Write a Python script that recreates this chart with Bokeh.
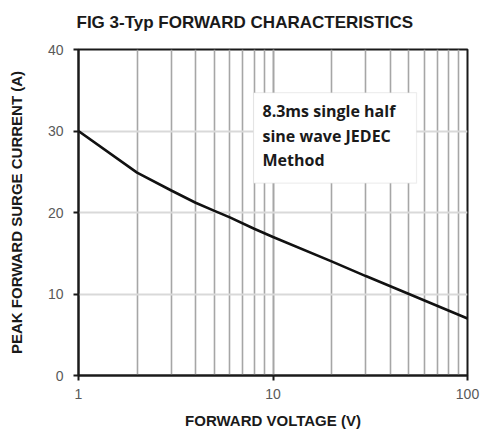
from bokeh.plotting import figure
from bokeh.models import (FixedTicker, Label, BoxAnnotation, Range1d,
                          LogTicker, PrintfTickFormatter, Title)
from bokeh.embed import file_html
from bokeh.resources import INLINE

# Data
voltage = [1, 2, 3, 4, 5, 6, 8, 10, 20, 30, 50, 100]
current = [30.0, 24.9, 22.7, 21.2, 20.2, 19.4, 18.0, 17.0, 14.0, 12.2, 10.0, 7.0]
y_ticks = [0, 10, 20, 30, 40]
x_ticks = [1, 10, 100]

title_text = "FIG 3-Typ FORWARD CHARACTERISTICS"
x_label = "FORWARD VOLTAGE (V)"
y_label = "PEAK FORWARD SURGE CURRENT (A)"
note_text = "8.3ms single half\nsine wave JEDEC\nMethod"

p = figure(width=483, height=434, x_axis_type="log",
           x_range=Range1d(1, 100), y_range=Range1d(0, 40),
           output_backend="svg", toolbar_location=None,
           min_border_left=78, min_border_right=16,
           min_border_top=49, min_border_bottom=59)
p.background_fill_color = "white"
p.border_fill_color = "white"
p.outline_line_color = "#1a1a1a"
p.outline_line_width = 2

# real title, then a spacer title between it and the frame
p.title.text = title_text
p.title.align = "left"
p.title.offset = -2
p.title.text_font = "Liberation Sans"
p.title.text_font_style = "bold"
p.title.text_font_size = "17px"
p.title.text_color = "#1a1a1a"
p.add_layout(Title(text="\u00a0", text_font_size="10px", standoff=0), "above")

# grids
p.ygrid.ticker = FixedTicker(ticks=y_ticks)
p.ygrid.grid_line_color = "#d9d9d9"
p.ygrid.grid_line_width = 2
p.xgrid.ticker = LogTicker(num_minor_ticks=10)
p.xgrid.grid_line_color = "#a6a6a6"
p.xgrid.grid_line_width = 1.6
p.xgrid.minor_grid_line_color = "#a6a6a6"
p.xgrid.minor_grid_line_width = 1.6

# axes
for ax in (p.xaxis[0], p.yaxis[0]):
    ax.axis_line_color = "#1a1a1a"
    ax.axis_line_width = 2
    ax.major_tick_line_color = "#1a1a1a"
    ax.major_tick_line_width = 2
    ax.major_tick_out = 5
    ax.major_tick_in = 0
    ax.minor_tick_line_color = None
    ax.major_label_text_font = "Liberation Sans"
    ax.major_label_text_font_size = "14px"
    ax.major_label_text_color = "#595959"
    ax.axis_label_text_font = "Liberation Sans"
    ax.axis_label_text_font_style = "bold"
    ax.axis_label_text_font_size = "15px"
    ax.axis_label_text_color = "#1a1a1a"

p.xaxis.ticker = FixedTicker(ticks=x_ticks)
p.xaxis.formatter = PrintfTickFormatter(format="%d")
p.xaxis.major_label_standoff = 8
p.xaxis.axis_label = x_label
p.xaxis.axis_label_standoff = 10

p.yaxis.ticker = FixedTicker(ticks=y_ticks)
p.yaxis.major_label_standoff = 10
p.yaxis.axis_label = y_label
p.yaxis.axis_label_standoff = 20

# curve
p.line(voltage, current, line_color="#111111", line_width=2.6)

# annotation box
note_left = 7.94
note_right = 54.7
note_top = 34.7
note_bottom = 23.6
box = BoxAnnotation(left=note_left, right=note_right, top=note_top, bottom=note_bottom,
                    fill_color="white", fill_alpha=1.0,
                    line_color="#c8c8c8", line_width=1.2)
p.add_layout(box)
note = Label(x=note_left, y=note_top, x_offset=9, y_offset=-7, text=note_text,
             text_font="Open Sans", text_font_style="bold", text_font_size="16px",
             text_color="#1a1a1a", text_align="left", text_baseline="top",
             text_line_height=1.13)
p.add_layout(note)

open("out.html", "w").write(file_html(p, INLINE))
